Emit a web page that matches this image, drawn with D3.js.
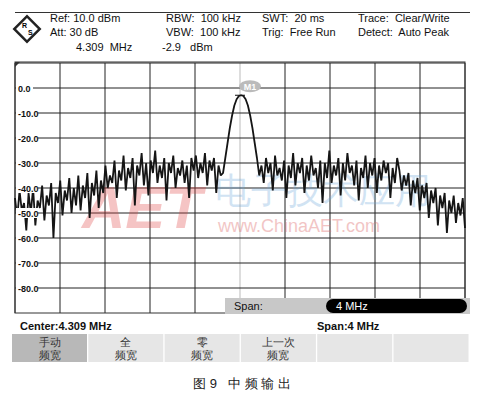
<!DOCTYPE html>
<html><head><meta charset="utf-8">
<script src="https://cdn.jsdelivr.net/npm/d3@7"></script>
<style>body{margin:0;background:#fff}svg{display:block}text{font-family:"Liberation Sans",Arial,sans-serif;white-space:pre}</style>
</head><body><svg id="c" width="484" height="400"></svg>
<script>
const yTicks=[0,-10,-20,-30,-40,-50,-60,-70,-80];
const yLabels=["0.0","-10.0","-20.0","-30.0","-40.0","-50.0","-60.0","-70.0","-80.0"];
const freqStart=2.309, freqStop=6.309, centerFreq=4.309, peakLevel=-2.9;
const trace=[-44,-52,-41,-49,-46,-57,-42,-50,-40,-55,-45,-48,-39,-53,-43,-47,-38,-60,-42,-46,-37,-51,-41,-45,-36,-50,-40,-47,-35,-49,-39,-44,-34,-52,-38,-43,-33,-48,-37,-42,
-31,-40,-35,-38,-29,-44,-33,-37,-27,-41,-32,-36,-28,-47,-31,-35,-26,-39,-30,-43,-29,-34,-25,-38,-31,-36,-28,-45,-30,-34,-27,-40,-32,-35,-29,-38,-31,-44,-28,-33,
-27,-36,-30,-34,-26,-39,-29,-33,-28,-42,-31,-35,
-34,-28,-22,-16,-11,-7,-4.5,-3.2,-2.9,-3.2,-4.5,-7,-11,-16,-22,-28,-35,
-31,-38,-28,-34,-30,-41,-27,-35,-32,-37,-29,-44,-31,-36,-26,-39,-30,-34,-28,-42,-31,-37,-27,-35,-32,-40,-29,-46,-30,-36,-25,-38,-31,-35,-28,-43,-30,-37,-26,-34,-31,-39,-29,-45,-32,-36,-27,-40,-30,-35,-28,-42,-31,-37,-29,-34,-30,-44,-32,-38,-28,
-33,-41,-35,-39,-34,-47,-37,-42,-36,-49,-39,-44,-38,-52,-41,-46,-40,-55,-43,-48,-42,-58,-45,-50,-43,-54,-46,-51,-44,-56];
const softkeys=[["手动","频宽"],["全","频宽"],["零","频宽"],["上一次","频宽"],["",""],["",""]];

const svg=d3.select("#c");
const L=15,R=465,T=63,B=313;
const x=d3.scaleLinear().domain([freqStart,freqStop]).range([L,R]);
const y=d3.scaleLinear().domain([-90,10]).range([B,T]);
const xi=d3.scaleLinear().domain([0,trace.length-1]).range([freqStart,freqStop]);

svg.append("line").attr("x1",15).attr("x2",470).attr("y1",12.5).attr("y2",12.5).attr("stroke","#333");
const logo=svg.append("g").attr("transform","translate(27,29) rotate(45)");
logo.append("rect").attr("x",-9).attr("y",-9).attr("width",18).attr("height",18).attr("fill","none").attr("stroke","#222").attr("stroke-width",2.5);
svg.append("text").attr("x",22).attr("y",28).attr("font-size",7).attr("font-weight","bold").text("R");
svg.append("text").attr("x",28).attr("y",35).attr("font-size",7).attr("font-weight","bold").text("S");
const hdr=[["Ref: 10.0 dBm",50,22],["Att: 30 dB",50,36],["4.309  MHz",76,51],["-2.9   dBm",162,51],
["RBW:  100 kHz",166,22],["VBW:  100 kHz",166,36],["SWT:  20 ms",262,22],["Trig:  Free Run",262,36],
["Trace:  Clear/Write",358,22],["Detect:  Auto Peak",358,36]];
svg.selectAll("text.h").data(hdr).enter().append("text").attr("class","h").attr("x",d=>d[1]).attr("y",d=>d[2]).attr("font-size",11).attr("fill","#111").text(d=>d[0]);

const xt=d3.range(11).map(i=>freqStart+i*0.4);
svg.selectAll("line.vx").data(xt).enter().append("line").attr("x1",d=>x(d)).attr("x2",d=>x(d)).attr("y1",T).attr("y2",B)
 .attr("stroke",(d,i)=>i==5?"#bbb":"#222").attr("stroke-width",1);
svg.selectAll("line.hy").data(d3.range(-80,20,10)).enter().append("line").attr("x1",L).attr("x2",R).attr("y1",d=>y(d)).attr("y2",d=>y(d)).attr("stroke","#222");
svg.append("rect").attr("x",L).attr("y",T-1).attr("width",R-L).attr("height",B-T+1).attr("fill","none").attr("stroke","#333");
svg.append("path").attr("d",`M${L},${T-1}h5l-5,5z`).attr("fill","#333");

svg.append("text").attr("x",82).attr("y",228).attr("font-size",60).attr("font-weight","bold").attr("fill","#e04040").attr("opacity",0.3).attr("font-style","italic").text("AET");
svg.append("text").attr("x",215).attr("y",203).attr("font-size",36).attr("fill","#6aa6d8").attr("opacity",0.3).attr("font-family","Noto Sans CJK SC").text("电子技术应用");
svg.append("text").attr("x",218).attr("y",232).attr("font-size",18).attr("fill","#e07070").attr("opacity",0.4).text("www.ChinaAET.com");

svg.append("path").datum(trace).attr("fill","none").attr("stroke","#151515").attr("stroke-width",1.8).attr("stroke-linejoin","bevel")
 .attr("d",d3.line().x((d,i)=>x(xi(i))).y(d=>y(d)));

const yl=svg.selectAll("g.yl").data(yTicks).enter().append("g");
yl.append("rect").attr("x",L+1).attr("y",d=>y(d)-5).attr("width",d=>d==0?17:22).attr("height",10).attr("fill","#fff");
yl.append("text").attr("x",L+3).attr("y",d=>y(d)+3.5).attr("font-size",9).attr("font-weight","bold").attr("fill","#111").text((d,i)=>yLabels[i]);

svg.append("line").attr("x1",x(centerFreq)-5).attr("x2",x(centerFreq)+5).attr("y1",y(peakLevel)).attr("y2",y(peakLevel)).attr("stroke","#111");
svg.append("ellipse").attr("cx",x(centerFreq)+10).attr("cy",y(peakLevel)-9).attr("rx",11).attr("ry",6).attr("fill","#bbb");
svg.append("text").attr("x",x(centerFreq)+10).attr("y",y(peakLevel)-5.5).attr("text-anchor","middle").attr("font-size",9).attr("font-weight","bold").attr("fill","#fff").text("M1");

svg.append("rect").attr("x",225).attr("y",298).attr("width",245).attr("height",16).attr("fill","#c8c8c8");
svg.append("text").attr("x",234).attr("y",310).attr("font-size",11).attr("fill","#111").text("Span:");
svg.append("rect").attr("x",326).attr("y",299).attr("width",141).attr("height",14).attr("rx",7).attr("fill","#000");
svg.append("text").attr("x",336).attr("y",310).attr("font-size",11).attr("fill","#fff").text("4 MHz");

svg.append("text").attr("x",20).attr("y",330).attr("font-size",11).attr("font-weight","bold").attr("fill","#111").text("Center:4.309 MHz");
svg.append("text").attr("x",317).attr("y",330).attr("font-size",11).attr("font-weight","bold").attr("fill","#111").text("Span:4 MHz");

const sk=svg.selectAll("g.sk").data(softkeys).enter().append("g").attr("transform",(d,i)=>`translate(${12+i*76.3},334)`);
sk.append("rect").attr("width",75).attr("height",28).attr("fill",(d,i)=>i==0?"#b8b8b8":"#e6e6e6");
sk.append("text").attr("x",37.5).attr("y",12).attr("text-anchor","middle").attr("font-size",11).attr("font-family","Noto Sans CJK SC").attr("fill","#333").text(d=>d[0]);
sk.append("text").attr("x",37.5).attr("y",25).attr("text-anchor","middle").attr("font-size",11).attr("font-family","Noto Sans CJK SC").attr("fill","#333").text(d=>d[1]);

svg.append("text").attr("x",242).attr("y",388).attr("text-anchor","middle").attr("font-size",13).attr("font-family","Noto Serif CJK SC, Noto Sans CJK SC").attr("fill","#222").text("图 9   中 频 输 出");
</script></body></html>
